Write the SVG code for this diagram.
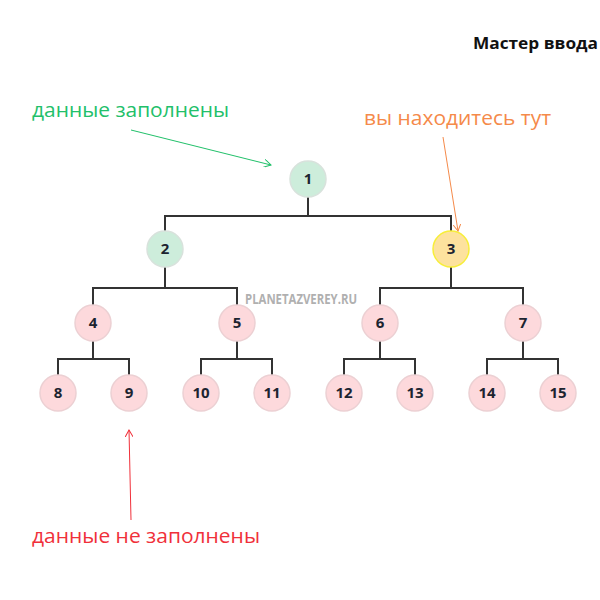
<svg xmlns="http://www.w3.org/2000/svg" width="600" height="600" viewBox="0 0 600 600">
<style>
text{font-family:"Open Sans","Liberation Sans",sans-serif}
.n circle{stroke-width:1.5}
.g circle{fill:#cdeddb;stroke:#d8e2dc}
.y circle{fill:#fde29e;stroke:#f7ee3a}
.p circle{fill:#fdd9dc;stroke:#ecd0d3}
.n text{font-size:15px;font-weight:bold;fill:#1c2430;text-anchor:middle}
.c path{fill:none;stroke:#333;stroke-width:2}
.lbl{font-size:20px}
</style>
<defs>
<marker id="ag" markerWidth="8" markerHeight="8" refX="7" refY="4" orient="auto" markerUnits="userSpaceOnUse"><path d="M0,0 L7,4 L0,8" fill="none" stroke="#22c06a"/></marker>
<marker id="ao" markerWidth="8" markerHeight="8" refX="7" refY="4" orient="auto" markerUnits="userSpaceOnUse"><path d="M0,0 L7,4 L0,8" fill="none" stroke="#f58a4a"/></marker>
<marker id="ar" markerWidth="8" markerHeight="8" refX="7" refY="4" orient="auto" markerUnits="userSpaceOnUse"><path d="M0,0 L7,4 L0,8" fill="none" stroke="#f0303a"/></marker>
</defs>
<rect width="600" height="600" fill="#fff"/>
<text x="598" y="49" text-anchor="end" font-size="16" font-weight="bold" fill="#111" textLength="125" lengthAdjust="spacingAndGlyphs">Мастер ввода</text>
<g class="c">
<path d="M308,197V216M165,231V216H451V231"/>
<path d="M165,267V288M93,305V288H237V305"/>
<path d="M451,267V288M380,305V288H523V305"/>
<path d="M93,341V359M58,375V359H129V375"/>
<path d="M237,341V359M201,375V359H272V375"/>
<path d="M380,341V359M344,375V359H415V375"/>
<path d="M523,341V359M487,375V359H558V375"/>
</g>
<text x="245" y="304" font-size="14" font-weight="bold" fill="#b0b0b0" textLength="112" lengthAdjust="spacingAndGlyphs">PLANETAZVEREY.RU</text>
<g id="n1" class="n g"><circle cx="308" cy="179" r="18"/><text x="308" y="184">1</text></g>
<g id="n2" class="n g"><circle cx="165" cy="249" r="18"/><text x="165" y="254">2</text></g>
<g id="n3" class="n y"><circle cx="451" cy="249" r="18"/><text x="451" y="254">3</text></g>
<g id="n4" class="n p"><circle cx="93" cy="323" r="18"/><text x="93" y="328">4</text></g>
<g id="n5" class="n p"><circle cx="237" cy="323" r="18"/><text x="237" y="328">5</text></g>
<g id="n6" class="n p"><circle cx="380" cy="323" r="18"/><text x="380" y="328">6</text></g>
<g id="n7" class="n p"><circle cx="523" cy="323" r="18"/><text x="523" y="328">7</text></g>
<g id="n8" class="n p"><circle cx="58" cy="393" r="18"/><text x="58" y="398">8</text></g>
<g id="n9" class="n p"><circle cx="129" cy="393" r="18"/><text x="129" y="398">9</text></g>
<g id="n10" class="n p"><circle cx="201" cy="393" r="18"/><text x="201" y="398">10</text></g>
<g id="n11" class="n p"><circle cx="272" cy="393" r="18"/><text x="272" y="398">11</text></g>
<g id="n12" class="n p"><circle cx="344" cy="393" r="18"/><text x="344" y="398">12</text></g>
<g id="n13" class="n p"><circle cx="415" cy="393" r="18"/><text x="415" y="398">13</text></g>
<g id="n14" class="n p"><circle cx="487" cy="393" r="18"/><text x="487" y="398">14</text></g>
<g id="n15" class="n p"><circle cx="558" cy="393" r="18"/><text x="558" y="398">15</text></g>
<g id="annotations">
<text class="lbl" x="32" y="117" fill="#22c06a" textLength="197" lengthAdjust="spacingAndGlyphs">данные заполнены</text>
<path d="M131,130 L271,165" stroke="#22c06a" fill="none" marker-end="url(#ag)"/>
<text class="lbl" x="364" y="125" fill="#f58a4a" textLength="187" lengthAdjust="spacingAndGlyphs">вы находитесь тут</text>
<path d="M443,137 L458,231" stroke="#f58a4a" fill="none" marker-end="url(#ao)"/>
<text class="lbl" x="32" y="543" fill="#f0303a" textLength="228" lengthAdjust="spacingAndGlyphs">данные не заполнены</text>
<path d="M131,520 L129,430" stroke="#f0303a" fill="none" marker-end="url(#ar)"/>
</g>
</svg>
